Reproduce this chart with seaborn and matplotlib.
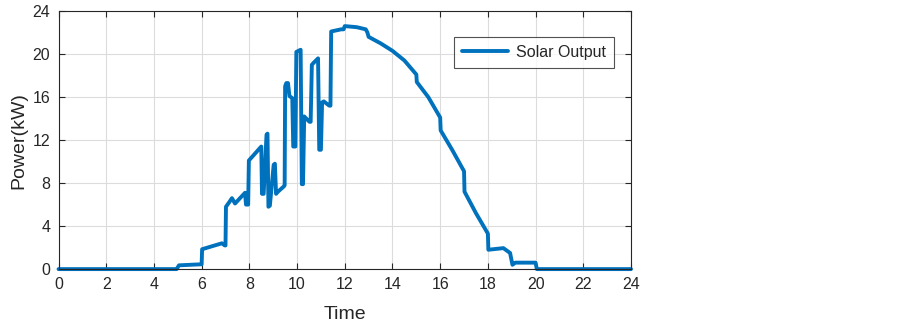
import numpy as np
import pandas as pd
import matplotlib
matplotlib.use("Agg")
import matplotlib.pyplot as plt
import seaborn as sns

# solar output trace
hours = [
    0, 4.95, 5.05, 6.0, 6.02, 6.85, 6.97, 7.0, 7.02, 7.15, 7.27, 7.4,
    7.82, 7.86, 7.95, 7.98, 8.5, 8.53, 8.6, 8.72, 8.76, 8.8, 8.86,
    9.02, 9.07, 9.12, 9.2, 9.45, 9.48, 9.5, 9.55, 9.62, 9.68, 9.8,
    9.84, 9.93, 9.97, 10.15, 10.2, 10.25, 10.3, 10.52, 10.57, 10.62,
    10.7, 10.88, 10.93, 11.0, 11.05, 11.12, 11.35, 11.4, 11.43, 11.85,
    11.95, 12.0, 12.5, 12.88, 12.95, 13.0, 13.5, 14.0, 14.5, 15.0,
    15.02, 15.5, 16.0, 16.02, 16.5, 17.0, 17.02, 17.5, 18.0, 18.02,
    18.65, 18.93, 19.03, 19.15, 20.0, 20.05, 24,
]
power = [
    0, 0, 0.35, 0.45, 1.85, 2.4, 2.2, 2.2, 5.8, 6.2, 6.6, 6.1,
    7.1, 6.0, 6.0, 10.1, 11.4, 7.0, 7.0, 12.5, 12.6, 5.8, 5.9,
    9.7, 9.8, 7.0, 7.2, 7.7, 7.8, 17.0, 17.3, 17.3, 16.1, 15.9,
    11.4, 11.4, 20.2, 20.4, 7.9, 7.9, 14.2, 13.7, 13.7, 19.0,
    19.2, 19.6, 11.1, 11.1, 15.5, 15.6, 15.2, 15.2, 22.1, 22.3,
    22.3, 22.6, 22.5, 22.3, 22.0, 21.6, 21.0, 20.3, 19.4, 18.1,
    17.4, 16.0, 14.1, 12.9, 11.1, 9.1, 7.2, 5.2, 3.3, 1.8,
    1.95, 1.5, 0.4, 0.6, 0.6, 0, 0,
]

x_ticks = list(range(0, 25, 2))
y_ticks = list(range(0, 25, 4))

df = pd.DataFrame({"Time": hours, "Power": power})

sns.set_style("white")
plt.rcParams["font.family"] = ["Liberation Sans", "DejaVu Sans"]

fig = plt.figure(figsize=(9.03, 3.25), dpi=100)
ax = fig.add_axes([0.0648, 0.172, 0.634, 0.794])

sns.lineplot(
    data=df, x="Time", y="Power", ax=ax,
    color="#0072BD", linewidth=2.8, estimator=None, sort=False,
    label="Solar Output"
)
ax.lines[0].set_solid_joinstyle("round")
ax.lines[0].set_clip_on(False)

ax.set_xlim(0, 24)
ax.set_ylim(0, 24)
ax.set_xticks(x_ticks)
ax.set_yticks(y_ticks)
ax.grid(True, color="#dcdcdc", linewidth=0.8)
ax.set_axisbelow(True)

for side in ["top", "right", "bottom", "left"]:
    ax.spines[side].set_visible(True)
    ax.spines[side].set_color("#262626")
    ax.spines[side].set_linewidth(0.8)

ax.tick_params(
    direction="in", length=4, width=0.8, color="#262626",
    top=True, right=True, bottom=True, left=True,
    labelsize=11.5, labelcolor="#262626", pad=6
)

ax.set_xlabel("Time", fontsize=14, color="#262626", labelpad=10)
ax.set_ylabel("Power(kW)", fontsize=14, color="#262626", labelpad=4)

leg = ax.legend(
    loc="upper right", bbox_to_anchor=(0.984, 0.932),
    fontsize=11.5, frameon=True, fancybox=False,
    handlelength=2.9, borderpad=0.5, handletextpad=0.5
)
leg.get_frame().set_edgecolor("#262626")
leg.get_frame().set_linewidth(0.8)

plt.savefig("out.png", dpi=100)
